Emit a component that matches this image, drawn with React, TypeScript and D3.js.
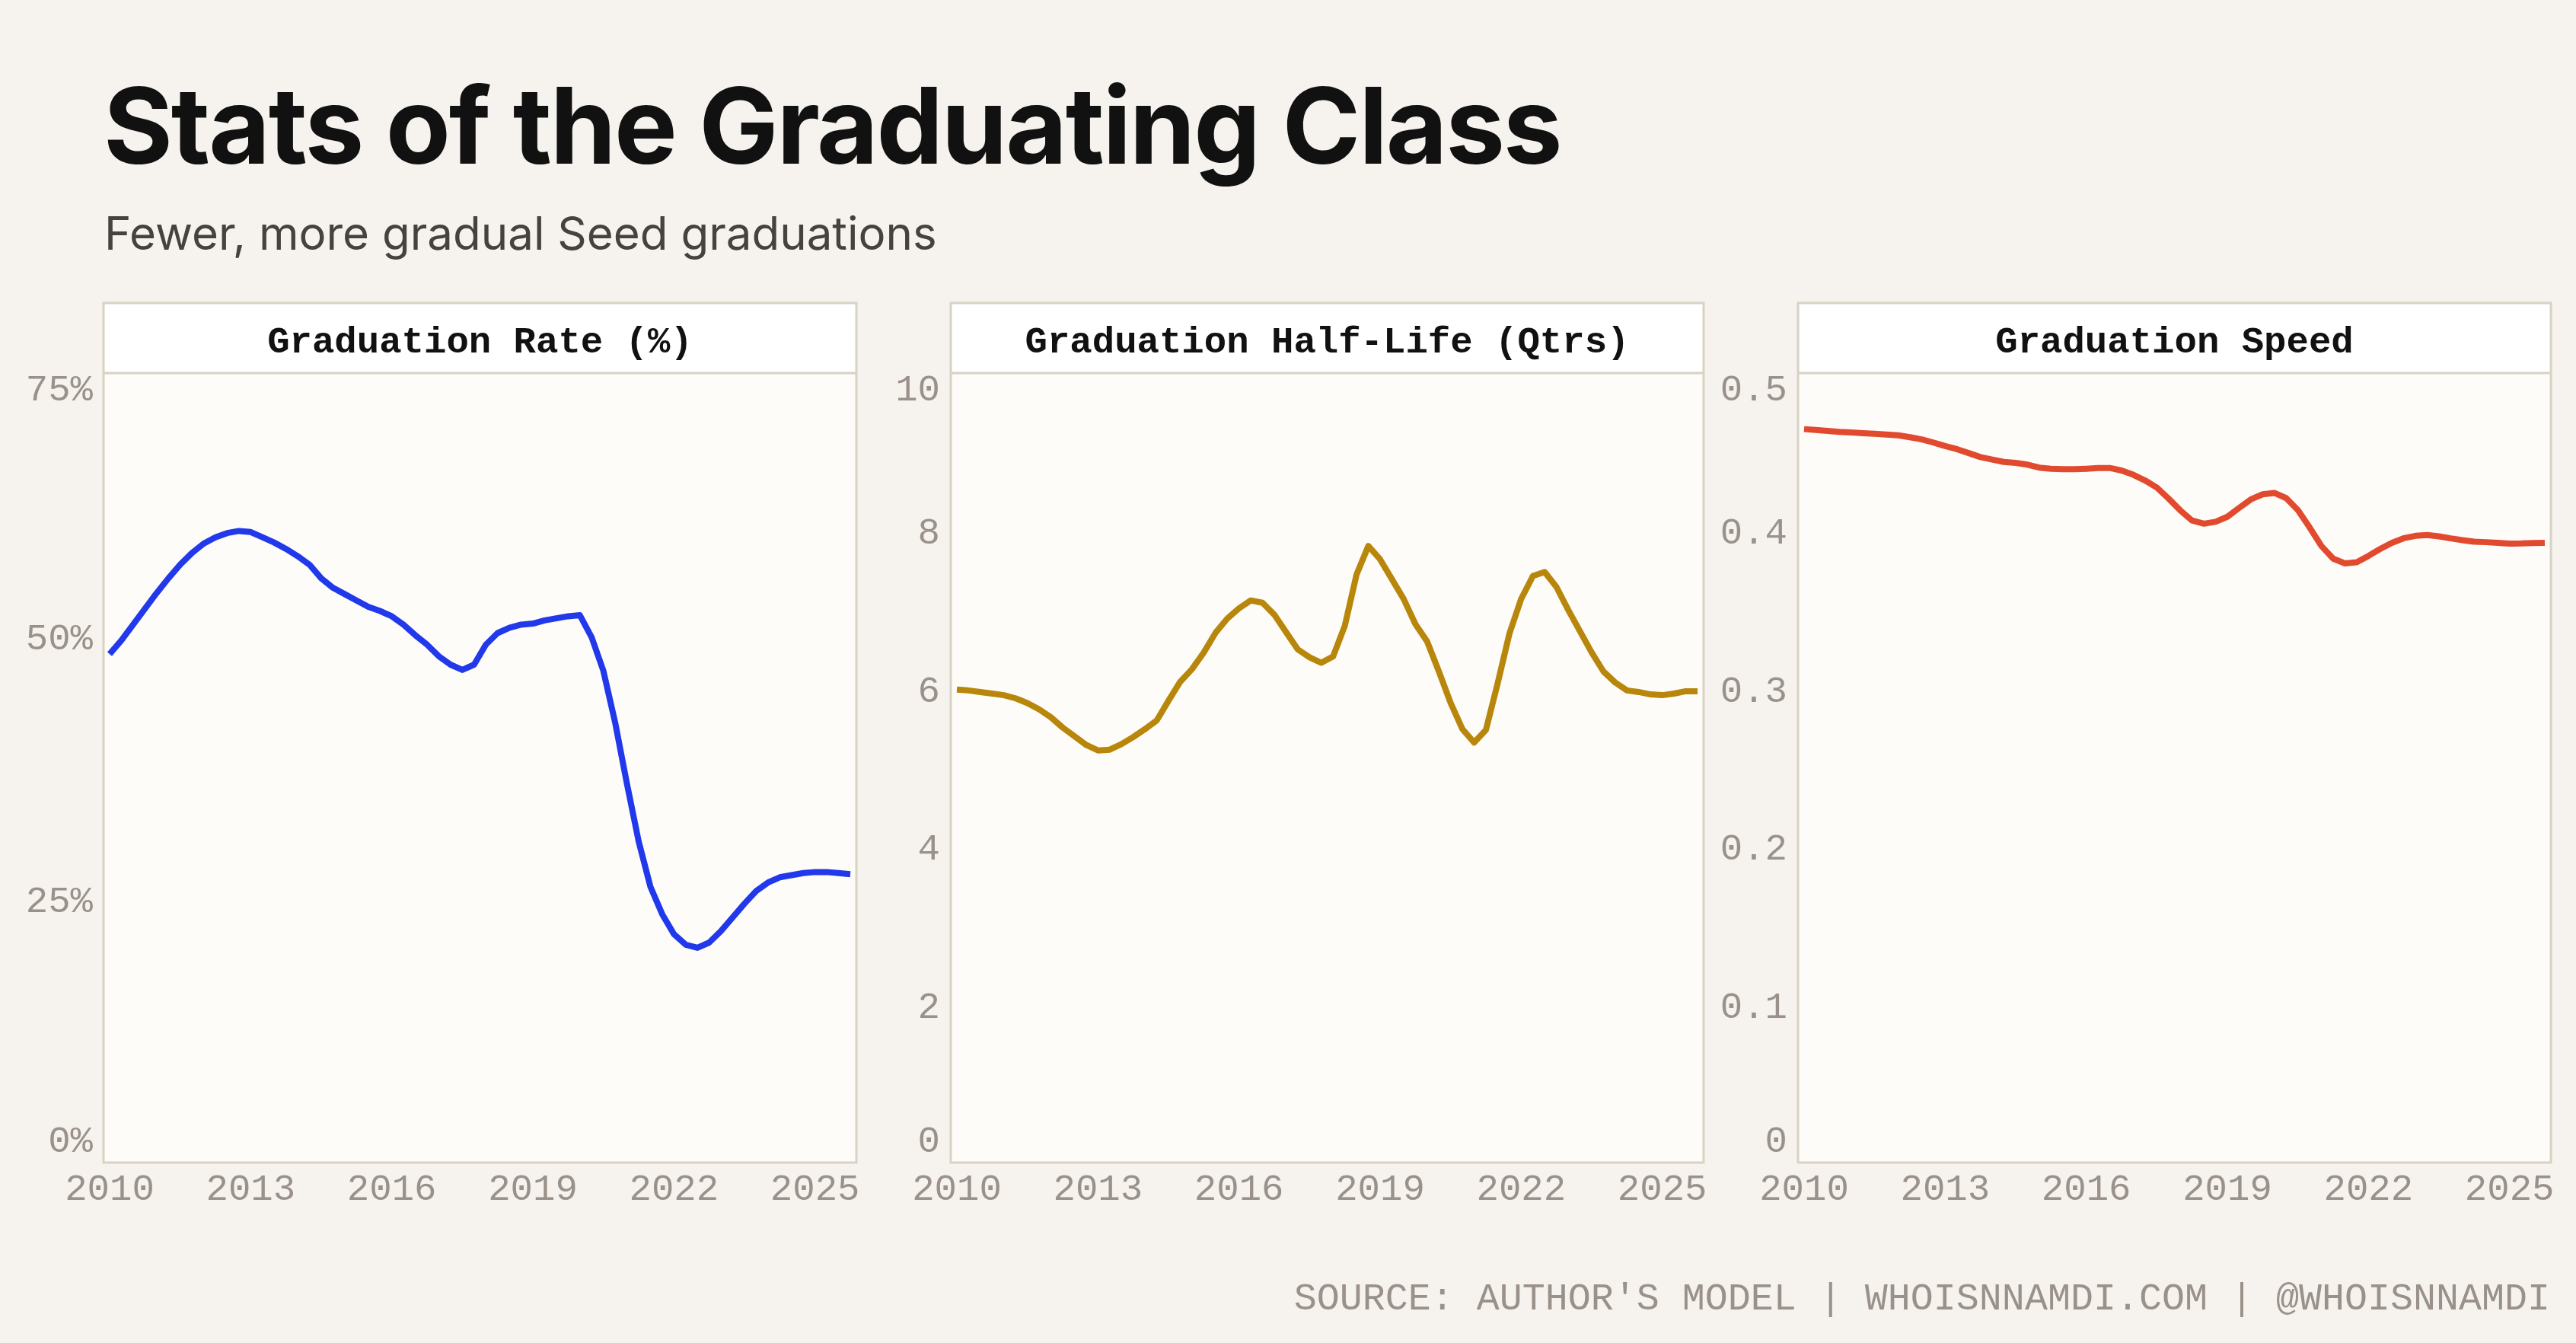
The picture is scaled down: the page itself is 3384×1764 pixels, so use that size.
import { useEffect } from "react";
import * as d3 from "d3";

const width = 3384;
const height = 1764;

// quarterly time axis, 2010 Q1 .. 2025 Q4
const quarters = d3.range(2010, 2026, 0.25);

const gradRate = [
  48.3, 49.6, 51.1, 52.6, 54.1, 55.5, 56.8, 57.9,
  58.8, 59.4, 59.8, 60.0, 59.9, 59.4, 58.9, 58.3,
  57.6, 56.8, 55.5, 54.6, 54.0, 53.4, 52.8, 52.4,
  51.9, 51.1, 50.1, 49.2, 48.1, 47.3, 46.8, 47.3,
  49.2, 50.3, 50.8, 51.1, 51.2, 51.5, 51.7, 51.9,
  52.0, 49.9, 46.7, 41.8, 36.0, 30.5, 26.2, 23.6,
  21.7, 20.7, 20.4, 20.9, 22.0, 23.3, 24.6, 25.8,
  26.6, 27.1, 27.3, 27.5, 27.6, 27.6, 27.5, 27.4,
];

const halfLife = [
  5.99, 5.98, 5.96, 5.94, 5.92, 5.88, 5.82, 5.74,
  5.64, 5.51, 5.40, 5.29, 5.22, 5.23, 5.30, 5.39,
  5.49, 5.60, 5.85, 6.09, 6.25, 6.46, 6.71, 6.89,
  7.02, 7.12, 7.09, 6.94, 6.72, 6.50, 6.40, 6.33,
  6.41, 6.80, 7.45, 7.81, 7.64, 7.39, 7.14, 6.82,
  6.60, 6.22, 5.82, 5.49, 5.32, 5.48, 6.07, 6.70,
  7.14, 7.43, 7.48, 7.29, 7.00, 6.73, 6.46, 6.22,
  6.08, 5.98, 5.96, 5.93, 5.92, 5.94, 5.97, 5.97,
];

const gradSpeed = [
  0.4645, 0.4640, 0.4634, 0.4628, 0.4624, 0.4619, 0.4615, 0.4611,
  0.4606, 0.4594, 0.4580, 0.4560, 0.4538, 0.4518, 0.4493, 0.4468,
  0.4452, 0.4437, 0.4431, 0.4420, 0.4401, 0.4394, 0.4391, 0.4391,
  0.4394, 0.4398, 0.4399, 0.4383, 0.4356, 0.4320, 0.4275, 0.4205,
  0.4130, 0.4066, 0.4046, 0.4058, 0.4090, 0.4146, 0.4200, 0.4232,
  0.4241, 0.4208, 0.4132, 0.4022, 0.3905, 0.3825, 0.3795, 0.3802,
  0.3842, 0.3886, 0.3925, 0.3954, 0.3969, 0.3974, 0.3966, 0.3953,
  0.3942, 0.3932, 0.3929, 0.3925, 0.3920, 0.3921, 0.3924, 0.3925,
];

const yearTicks = [2010, 2013, 2016, 2019, 2022, 2025];
const rateTicks = [0, 25, 50, 75];
const halfLifeTicks = [0, 2, 4, 6, 8, 10];
const speedTicks = [0, 0.1, 0.2, 0.3, 0.4, 0.5];

const panels = [
  { title: "Graduation Rate (%)", values: gradRate, max: 75, ticks: rateTicks, fmt: (v: number) => `${v}%`, color: "#2139ea" },
  { title: "Graduation Half-Life (Qtrs)", values: halfLife, max: 10, ticks: halfLifeTicks, fmt: (v: number) => `${v}`, color: "#b8860b" },
  { title: "Graduation Speed", values: gradSpeed, max: 0.5, ticks: speedTicks, fmt: (v: number) => `${v}`, color: "#e24a2f" },
];

const mono = "'Liberation Mono', 'DejaVu Sans Mono', monospace";
const sans = "Inter, 'Noto Sans', sans-serif";
const gray = "#9a928a";
const border = "#d8d2c4";

// layout
const panelW = 989;
const panelGap = 124;
const panelLeft = 136;
const panelTop = 398;
const headerBottom = 490;
const plotBottom = 1527;

const Panel = ({ p, left }: { p: typeof panels[number]; left: number }) => {
  const x = d3.scaleLinear().domain([2010, 2025.75]).range([left + 8, left + panelW - 8]);
  const y = d3.scaleLinear().domain([0, p.max]).range([plotBottom, headerBottom]);
  const line = d3.line<number>()
    .x((_, i) => x(quarters[i]))
    .y(d => y(d));

  return (
    <g>
      <rect x={left} y={headerBottom} width={panelW} height={plotBottom - headerBottom} fill="#fdfcf8" />
      <rect x={left} y={panelTop} width={panelW} height={headerBottom - panelTop} fill="#ffffff" />
      <path d={line(p.values) ?? ""} fill="none" stroke={p.color} strokeWidth={8} strokeLinejoin="round" />
      <rect x={left} y={panelTop} width={panelW} height={plotBottom - panelTop} fill="none" stroke={border} strokeWidth={3} />
      <line x1={left} x2={left + panelW} y1={headerBottom} y2={headerBottom} stroke={border} strokeWidth={3} />
      <text x={left + panelW / 2} y={463} textAnchor="middle" fontFamily={mono} fontWeight={700} fontSize={49} fill="#111">
        {p.title}
      </text>
      {p.ticks.map(t => {
        // keep the end labels inside the plot
        const cy = Math.min(Math.max(y(t), headerBottom + 19), plotBottom - 31);
        return (
          <text key={t} x={left - 14} y={cy + 17} textAnchor="end" fontFamily={mono} fontSize={49} fill={gray}>
            {p.fmt(t)}
          </text>
        );
      })}
      {yearTicks.map(t => (
        <text key={t} x={x(t)} y={1576} textAnchor="middle" fontFamily={mono} fontSize={49} fill={gray}>
          {t}
        </text>
      ))}
    </g>
  );
};

export default function App() {
  useEffect(() => {
    document.body.style.margin = "0";
    document.body.style.background = "#f6f3ee";
  }, []);

  return (
    <svg width={width} height={height} style={{ display: "block" }}>
      <rect width={width} height={height} fill="#f6f3ee" />
      <text x={136} y={215} fontFamily={sans} fontWeight={700} fontSize={139} letterSpacing={-2.2} fill="#111">
        Stats of the Graduating Class
      </text>
      <text x={137} y={328} fontFamily={sans} fontSize={60} fill="#46423d">
        Fewer, more gradual Seed graduations
      </text>
      {panels.map((p, i) => (
        <Panel key={p.title} p={p} left={panelLeft + i * (panelW + panelGap)} />
      ))}
      <text x={3350} y={1720} textAnchor="end" fontFamily={mono} fontSize={50} fill={gray}>
        SOURCE: AUTHOR'S MODEL | WHOISNNAMDI.COM | @WHOISNNAMDI
      </text>
    </svg>
  );
}
